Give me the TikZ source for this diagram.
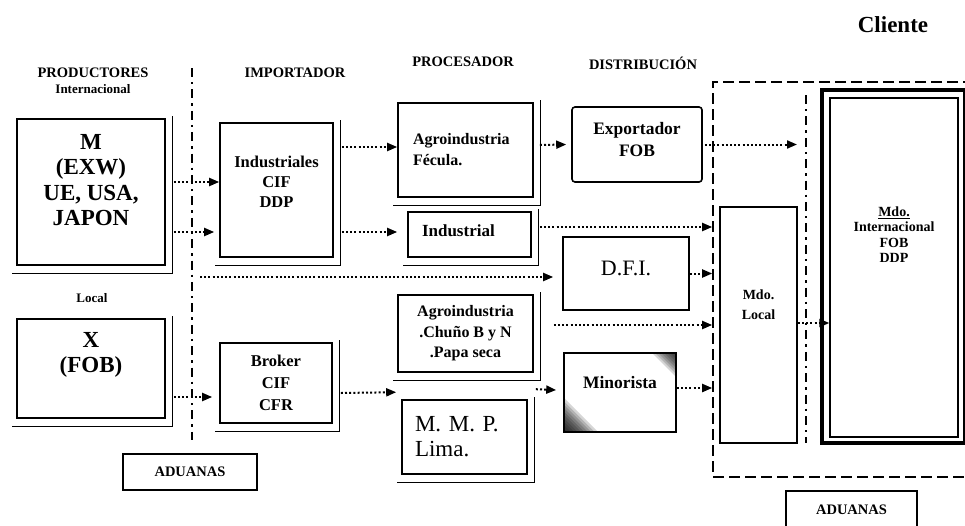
\documentclass[tikz,border=0pt]{standalone}
\usepackage{fontspec}
\setmainfont{Liberation Serif}
\usetikzlibrary{arrows.meta,positioning,calc}

\tikzset{
  boxline/.style={draw, line width=1.6pt, fill=white, inner sep=2pt, align=center},
  shadowline/.style={line width=1.2pt},
  flow/.style={line width=2pt, dash pattern=on 2pt off 2.2pt, -{Triangle[length=10pt,width=8pt]}},
  divider/.style={line width=2.4pt, dash pattern=on 9pt off 5pt on 2.4pt off 5pt},
  title/.style={font=\bfseries\fontsize{14.5}{16}\selectfont},
  boxtext/.style 2 args={font=\bfseries\fontsize{#1}{#2}\selectfont},
}

\begin{document}
\begin{tikzpicture}[x=1pt, y=-1pt]
    \path[use as bounding box] (0,0) rectangle (965,525);
    \clip (0,0) rectangle (965,525);
    % Column titles
    \node[title] (tprod) at (93,73) {PRODUCTORES};
    \node[font=\bfseries\fontsize{13}{15}\selectfont] (tinter) at (93,89) {Internacional};
    \node[title] (timp) at (295,73) {IMPORTADOR};
    \node[title] (tproc) at (463,62) {PROCESADOR};
    \node[title] (tdist) at (643,63) {DISTRIBUCIÓN};
    \node[font=\bfseries\fontsize{23}{25}\selectfont] (tcli) at (893,25) {Cliente};
    \node[font=\bfseries\fontsize{13}{15}\selectfont] (tlocal) at (92,298) {Local};
    % Client area and customs dividers
    \node[draw, line width=1.6pt, dash pattern=on 11pt off 5pt, minimum width=277pt, minimum height=395pt] (cliente) at (851.5,279.5) {};
    \coordinate (div1top) at (192,68);
    \coordinate (div1bot) at (192,440);
    \coordinate (div2top) at (806,95);
    \coordinate (div2bot) at (806,443);
    \draw[divider] (div1top) -- (div1bot);
    \draw[divider] (div2top) -- (div2bot);
    % Producers
    \node[boxline, boxtext={23}{25.5}, minimum width=148pt, minimum height=146pt, text depth=24pt] (prodm) at (91,192) {M\\(EXW)\\UE, USA,\\JAPON};
    \node[boxline, boxtext={23}{25}, minimum width=148pt, minimum height=99pt, text depth=32pt] (prodx) at (91,368.5) {X\\(FOB)};
    % Importers
    \node[boxline, boxtext={16.5}{20}, minimum width=113pt, minimum height=134pt, text depth=16pt] (indu) at (276.5,190) {Industriales\\CIF\\DDP};
    \node[boxline, boxtext={16.5}{22}, minimum width=112pt, minimum height=80pt] (brok) at (276,383) {Broker\\CIF\\CFR};
    % Processors
    \node[boxline, boxtext={16}{21}, minimum width=135pt, minimum height=94pt, text width=105pt, align=left] (agrof) at (465.5,150) {Agroindustria\\Fécula.};
    \node[boxline, boxtext={17}{20}, minimum width=123pt, minimum height=45pt, text width=95pt, align=left, text depth=8pt] (indus) at (469.5,234.5) {Industrial};
    \node[boxline, boxtext={16}{20.5}, minimum width=135pt, minimum height=77pt] (agroch) at (465.5,333.5) {Agroindustria\\.Chuño B y N\\.Papa seca};
    \node[boxline, font=\fontsize{23}{25}\selectfont, minimum width=125pt, minimum height=74pt, text width=99pt, align=left] (mmp) at (464.5,437) {M. M. P.\\Lima.};
    % Distribution
    \node[boxline, boxtext={17.5}{22}, rounded corners=3pt, minimum width=130pt, minimum height=75pt, text depth=10pt] (expo) at (637,144.5) {Exportador\\FOB};
    \node[boxline, font=\fontsize{22}{24}\selectfont, minimum width=126pt, minimum height=73pt, text depth=10pt] (dfi) at (626,273.5) {D.F.I.};
    \node[boxline, boxtext={17.5}{20}, minimum width=112pt, minimum height=79pt, text depth=20pt,
      path picture={
        \foreach \i in {1,...,10}
          \fill[black, opacity=0.16] (path picture bounding box.south west) -- ++(\i*3.4pt,0) -- ++(-\i*3.4pt,\i*3.4pt) -- cycle;
        \foreach \i in {1,...,8}
          \fill[black, opacity=0.16] (path picture bounding box.north east) -- ++(-\i*3pt,0) -- ++(\i*3pt,-\i*3pt) -- cycle;
      }] (mino) at (620,392.5) {Minorista};
    % Markets
    \node[boxline, boxtext={14}{20}, minimum width=77pt, minimum height=236pt, text depth=40pt] (mlocal) at (758.5,325) {Mdo.\\Local};
    \node[draw, line width=3.5pt, fill=white, minimum width=143pt, minimum height=353pt] (mdoint) at (893.5,266.5) {};
    \node[draw, line width=1.4pt, boxtext={14}{15.5}, align=center, minimum width=128pt, minimum height=339pt, text depth=66pt] (mdoin) at (894,267.5) {\underline{Mdo.}\\Internacional\\FOB\\DDP};
    % Customs
    \node[draw, line width=1.2pt, title, minimum width=134pt, minimum height=36pt] (aduana1) at (190,472) {ADUANAS};
    \node[draw, line width=1.2pt, title, minimum width=131pt, minimum height=38pt] (aduana2) at (851.5,510) {ADUANAS};
    % Box shadows
    \foreach \b in {prodm,prodx,indu,brok,agrof,indus,agroch,mmp}
      \draw[shadowline] ([xshift=-4pt,yshift=-8pt]\b.south west) -- ([xshift=7pt,yshift=-8pt]\b.south east) -- ([xshift=7pt,yshift=2pt]\b.north east);
    % Flows
    \coordinate (dfistart) at (200,277);
    \draw[flow] ([xshift=8pt,yshift=10pt]prodm.east) -- ([yshift=8pt]indu.west);
    \draw[flow] ([xshift=8pt,yshift=-40pt]prodm.east) -- ([xshift=-5pt,yshift=-42pt]indu.west);
    \draw[flow] (dfistart) -- ([xshift=-9pt,yshift=-3.5pt]dfi.west);
    \draw[flow] ([xshift=8pt,yshift=43pt]indu.east) -- ([yshift=3pt]agrof.west);
    \draw[flow] ([xshift=8pt,yshift=-42pt]indu.east) -- ([xshift=-10pt,yshift=2.5pt]indus.west);
    \draw[flow] ([xshift=8pt,yshift=-28.5pt]prodx.east) -- ([xshift=-7pt,yshift=-14pt]brok.west);
    \draw[flow] ([xshift=8pt,yshift=-10pt]brok.east) -- ([xshift=-5pt,yshift=7pt]mmp.north west);
    \draw[flow] ([xshift=6pt,yshift=5pt]agrof.east) -- ([xshift=-5pt]expo.west);
    \draw[flow] ([xshift=2pt]expo.east) -- ([xshift=-9pt]expo.east -| div2top);
    \draw[flow] ([xshift=8pt,yshift=7.5pt]indus.east) -- ([yshift=7.5pt]indus.east -| cliente.west);
    \draw[flow] (dfi.east) -- (dfi.east -| cliente.west);
    \draw[flow] ([xshift=20pt,yshift=8.5pt]agroch.east) -- ([yshift=8.5pt]agroch.east -| cliente.west);
    \draw[flow] ([xshift=8pt,yshift=10pt]mmp.north east) -- ([xshift=-7pt,yshift=2.5pt]mino.west);
    \draw[flow] ([yshift=4.5pt]mino.east) -- ([yshift=4.5pt]mino.east -| cliente.west);
    \draw[flow] ([yshift=2pt]mlocal.east) -- ([yshift=2pt]mlocal.east -| mdoin.west);
\end{tikzpicture}
\end{document}
